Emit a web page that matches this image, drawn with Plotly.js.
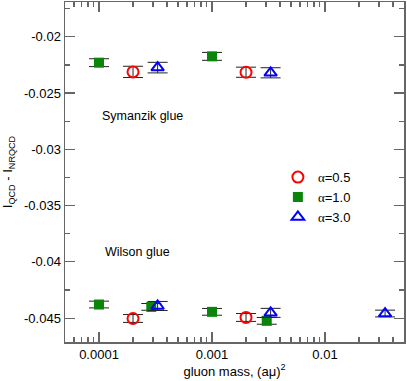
<!DOCTYPE html>
<html>
<head>
<meta charset="utf-8">
<script src="https://cdn.plot.ly/plotly-3.0.1.min.js"></script>
<style>
  html, body { margin: 0; padding: 0; background: #fff; }
  #plot { width: 407px; height: 381px; }
</style>
</head>
<body>
<div id="plot"></div>
<script>
// alpha = 0.5 (red open circles)
var a05_x = [0.0002, 0.002, 0.0002, 0.002];
var a05_y = [-0.02312, -0.02315, -0.04503, -0.04494];
var a05_err = [0.0005, 0.00045, 0.00035, 0.00035];

// alpha = 1.0 (green squares)
var a10_x = [0.0001, 0.001, 0.0001, 0.00029, 0.001, 0.00305];
var a10_y = [-0.0223, -0.02174, -0.04379, -0.0440, -0.04444, -0.04524];
var a10_err = [0.00035, 0.00035, 0.0003, 0.0003, 0.0003, 0.0003];

// alpha = 3.0 (blue open triangles)
var a30_x = [0.00033, 0.0033, 0.00033, 0.0033, 0.034];
var a30_y = [-0.02274, -0.0232, -0.04392, -0.04453, -0.04459];
var a30_err = [0.00047, 0.00045, 0.0004, 0.0004, 0.0003];

var xMajor = [0.0001, 0.001, 0.01];
var xMajorText = ['0.0001', '0.001', '0.01'];
var xMinor = [0.00005, 0.00006, 0.00007, 0.00008, 0.00009,
              0.0002, 0.0003, 0.0004, 0.0005, 0.0006, 0.0007, 0.0008, 0.0009,
              0.002, 0.003, 0.004, 0.005, 0.006, 0.007, 0.008, 0.009,
              0.02, 0.03, 0.04];
var yMajor = [-0.045, -0.04, -0.035, -0.03, -0.025, -0.02];
var yMajorText = ['-0.045', '-0.04', '-0.035', '-0.03', '-0.025', '-0.02'];
var yMinor = [-0.0425, -0.0375, -0.0325, -0.0275, -0.0225, -0.0175];

var errStyle = function (arr) {
  return {type: 'data', array: arr, visible: true, color: '#222', thickness: 1, width: 10};
};
var alpha = '<span style="font-family:\'Liberation Serif\'">\u03b1</span>';

var trace1 = {
  x: a05_x, y: a05_y, error_y: errStyle(a05_err),
  mode: 'markers', type: 'scatter',
  name: alpha + '=0.5',
  marker: {symbol: 'circle-open', size: 11, color: '#ff0000', line: {width: 2, color: '#ff0000'}}
};
var trace2 = {
  x: a10_x, y: a10_y, error_y: errStyle(a10_err),
  mode: 'markers', type: 'scatter',
  name: alpha + '=1.0',
  marker: {symbol: 'square', size: 10, color: '#0a850a', line: {width: 0}}
};
var trace3 = {
  x: a30_x, y: a30_y, error_y: errStyle(a30_err),
  mode: 'markers', type: 'scatter',
  name: alpha + '=3.0',
  marker: {symbol: 'triangle-up-open', size: 11, color: '#0000ff', line: {width: 2, color: '#0000ff'}}
};

var axisCommon = {
  showline: true, linecolor: '#666', linewidth: 1.5,
  ticks: 'inside', ticklen: 10, tickcolor: '#666', tickwidth: 1.2,
  mirror: 'allticks', showgrid: false, zeroline: false,
  tickfont: {size: 13, color: '#000'}
};

var layout = {
  width: 407, height: 381,
  margin: {l: 65, r: 3, t: 2, b: 39},
  paper_bgcolor: '#fff', plot_bgcolor: '#fff',
  font: {family: 'Liberation Sans, Arial, sans-serif', size: 13, color: '#000'},
  showlegend: true,
  legend: {x: 0.628, y: 0.426, xanchor: 'left', yanchor: 'middle', bgcolor: 'rgba(0,0,0,0)',
           font: {size: 13}, itemwidth: 30, tracegroupgap: 0},
  xaxis: Object.assign({}, axisCommon, {
    type: 'log',
    range: [Math.log10(0.00005), Math.log10(0.05)],
    tickmode: 'array', tickvals: xMajor, ticktext: xMajorText,
    minor: {tickmode: 'array', tickvals: xMinor, ticks: 'inside', ticklen: 5, tickcolor: '#666', tickwidth: 1.2},
    title: {text: 'gluon mass, (a\u03bc)<sup>2</sup>', font: {size: 13}, standoff: 3}
  }),
  yaxis: Object.assign({}, axisCommon, {
    range: [-0.04712, -0.01691],
    tickmode: 'array', tickvals: yMajor, ticktext: yMajorText,
    minor: {tickmode: 'array', tickvals: yMinor, ticks: 'inside', ticklen: 5, tickcolor: '#666', tickwidth: 1.2},
    title: {text: 'I<sub>QCD</sub> - I<sub>NRQCD</sub>', font: {size: 13}, standoff: 8}
  }),
  annotations: [
    {xref: 'paper', yref: 'paper', x: 0.103, y: 0.665, xanchor: 'left', yanchor: 'middle',
     text: 'Symanzik glue', showarrow: false, font: {size: 12.5}},
    {xref: 'paper', yref: 'paper', x: 0.112, y: 0.265, xanchor: 'left', yanchor: 'middle',
     text: 'Wilson glue', showarrow: false, font: {size: 12.5}}
  ]
};

Plotly.newPlot('plot', [trace1, trace2, trace3], layout, {displayModeBar: false, staticPlot: true});
</script>
</body>
</html>
